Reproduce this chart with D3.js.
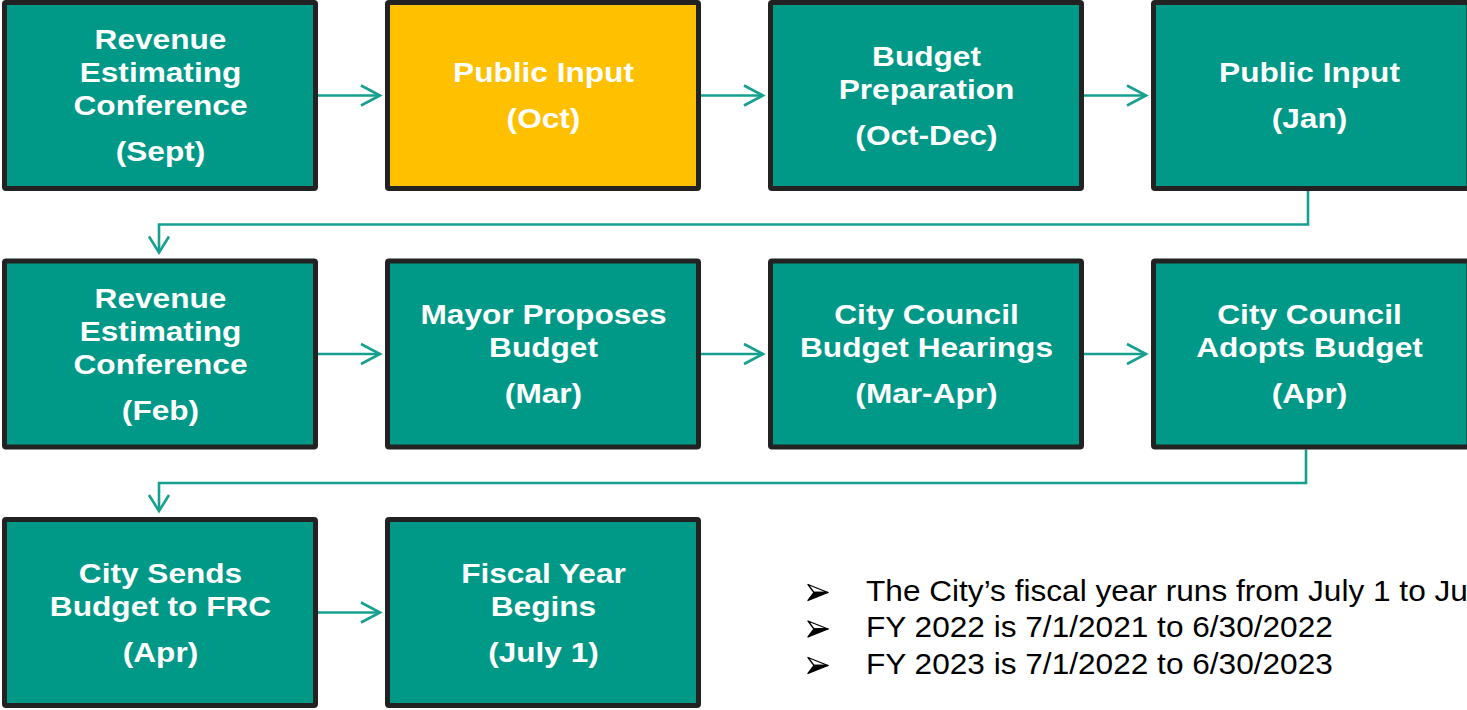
<!DOCTYPE html>
<html>
<head>
<meta charset="utf-8">
<script src="https://cdn.jsdelivr.net/npm/d3@7"></script>
<style>
  html, body { margin: 0; padding: 0; background: #fff; overflow: hidden; }
</style>
</head>
<body>
<div id="chart"></div>
<script>
// steps of the budget calendar, in order (3 rows x 4 columns)
const stepTitles = [
  ["Revenue", "Estimating", "Conference"],
  ["Public Input"],
  ["Budget", "Preparation"],
  ["Public Input"],
  ["Revenue", "Estimating", "Conference"],
  ["Mayor Proposes", "Budget"],
  ["City Council", "Budget Hearings"],
  ["City Council", "Adopts Budget"],
  ["City Sends", "Budget to FRC"],
  ["Fiscal Year", "Begins"]
];
const stepMonths = ["(Sept)", "(Oct)", "(Oct-Dec)", "(Jan)", "(Feb)", "(Mar)", "(Mar-Apr)", "(Apr)", "(Apr)", "(July 1)"];
const highlighted = [false, true, false, false, false, false, false, false, false, false];
const notes = [
  "The City\u2019s fiscal year runs from July 1 to June 30",
  "FY 2022 is 7/1/2021 to 6/30/2022",
  "FY 2023 is 7/1/2022 to 6/30/2023"
];

const W = 1467, H = 710;
const nCols = 4;
const teal = "#009887", yellow = "#FFC000", border = "#222222", lineCol = "#17a090";

const svg = d3.select("#chart").append("svg")
  .attr("width", W).attr("height", H)
  .style("font-family", "Arial, 'Liberation Sans', sans-serif");

// grid scales
const x = d3.scaleLinear().domain([0, 1]).range([2, 385]);     // column -> outer left
const y = d3.scaleLinear().domain([0, 1]).range([0, 258.5]);   // row -> outer top
const boxW = 316, boxH = 191, sw = 5;

const steps = stepTitles.map((t, i) => ({
  title: t, month: stepMonths[i], hi: highlighted[i],
  col: i % nCols, row: Math.floor(i / nCols), i
}));

// connectors with open chevron heads
const arrows = svg.append("g")
  .attr("fill", "none").attr("stroke", lineCol).attr("stroke-width", 2.6);

steps.forEach((d, i) => {
  const next = steps[i + 1];
  if (!next) return;
  const cy = y(d.row) + boxH / 2;
  if (next.row === d.row) {
    const x0 = x(d.col) + boxW, x1 = x(next.col) - 5;
    arrows.append("path").attr("d", `M${x0},${cy}H${x1}`);
    arrows.append("path").attr("d", `M${x1 - 19},${cy - 10}L${x1},${cy}L${x1 - 19},${cy + 10}`);
  } else {
    const sx = x(d.col) + boxW / 2 - 1 - d.row * 2;
    const y0 = y(d.row) + boxH, ym = y0 + 33.5;
    const tx = x(next.col) + boxW / 2 - 1;
    const ty = y(next.row) - 6;
    arrows.append("path").attr("d", `M${sx},${y0}V${ym}H${tx}V${ty}`);
    arrows.append("path").attr("d", `M${tx - 10},${ty - 16}L${tx},${ty}L${tx + 10},${ty - 16}`);
  }
});

// boxes
const boxes = svg.selectAll("g.step").data(steps).join("g")
  .attr("class", "step")
  .attr("transform", d => `translate(${x(d.col)},${y(d.row)})`);

boxes.append("rect")
  .attr("x", sw / 2).attr("y", sw / 2)
  .attr("width", d => d.col === 3 ? W - x(d.col) - sw / 2 + 2 : boxW - sw)
  .attr("height", boxH - sw)
  .attr("rx", 1.5)
  .attr("fill", d => d.hi ? yellow : teal)
  .attr("stroke", border).attr("stroke-width", sw);

const fs = 27.5, pitch = 33, gap = 46, stretch = 1.15;
boxes.each(function (d) {
  const g = d3.select(this);
  const cx = boxW / 2 + 0.5;
  const n = d.title.length;
  const blockH = (n - 1) * pitch + gap;
  const first = boxH / 2 - blockH / 2 + 9.5;
  const lines = d.title.map((t, k) => ({ t, yy: first + k * pitch }))
    .concat([{ t: d.month, yy: first + (n - 1) * pitch + gap }]);
  g.selectAll("text").data(lines).join("text")
    .attr("transform", l => `translate(${cx},${l.yy}) scale(${stretch},1)`)
    .attr("text-anchor", "middle")
    .attr("font-size", fs).attr("font-weight", "bold")
    .attr("fill", "#fff")
    .text(l => l.t);
});

// notes with arrowhead bullets
const noteY = d3.scaleLinear().domain([0, 1]).range([600.5, 637]);
const noteG = svg.append("g");
const bullets = noteG.selectAll("g.bullet").data(notes).join("g")
  .attr("class", "bullet")
  .attr("transform", (d, i) => `translate(808,${noteY(i) - 8})`);
bullets.append("path")
  .attr("d", "M0,-8L20,0L6,0Z")
  .attr("fill", "#fff").attr("stroke", "#000").attr("stroke-width", 1.3)
  .attr("stroke-linejoin", "round");
bullets.append("path")
  .attr("d", "M0,8L20,0L6,0Z")
  .attr("fill", "#000").attr("stroke", "#000").attr("stroke-width", 1.3)
  .attr("stroke-linejoin", "round");

noteG.selectAll("text.note").data(notes).join("text")
  .attr("class", "note")
  .attr("transform", (d, i) => `translate(866,${noteY(i)}) scale(1.09,1)`)
  .attr("font-size", 29).attr("fill", "#000")
  .text(d => d);
</script>
</body>
</html>
